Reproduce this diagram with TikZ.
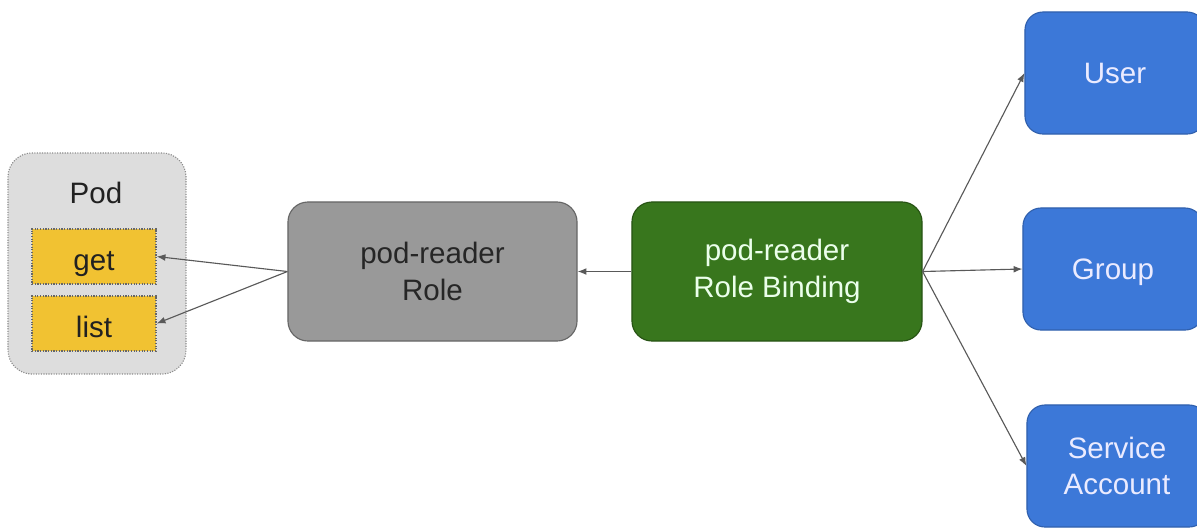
\documentclass[tikz,border=0pt]{standalone}
\usepackage{fontspec}
\setmainfont{Liberation Sans}
\usetikzlibrary{arrows.meta}
\definecolor{podgray}{HTML}{DDDDDD}
\definecolor{verbyellow}{HTML}{F1C232}
\definecolor{rolegray}{HTML}{999999}
\definecolor{bindgreen}{HTML}{38761D}
\definecolor{subjblue}{HTML}{3C78D8}
\definecolor{linkgray}{HTML}{595959}

\begin{document}
\begin{tikzpicture}[x=0.025cm,y=-0.025cm,font=\fontsize{21}{26}\selectfont,
  >={Latex[length=2.2mm,width=1.7mm]},
  box/.style={rounded corners=0.5cm,align=center,inner sep=4pt,line width=0.8pt},
  verb/.style={draw=black!60,densely dotted,line width=0.9pt,fill=verbyellow,text=black!87,
    minimum width=3.1cm,minimum height=1.375cm,text height=0.75cm,text depth=0.06cm},
  subj/.style={box,draw=subjblue!80!black,fill=subjblue,text=white!92!blue,
    minimum width=4.5cm,minimum height=3.05cm,rounded corners=0.45cm},
  link/.style={->,draw=linkgray,line width=0.8pt}]
  \useasboundingbox (0,0) rectangle (1197,529);
  \clip (0,0) rectangle (1197,529);
  % pod with its verbs
  \node[box,draw=black!45,densely dotted,fill=podgray,rounded corners=0.6cm,
    minimum width=4.45cm,minimum height=5.525cm] (pod) at (97,263.5) {};
  \node[text=black!87] (podlbl) at (96,193) {Pod};
  \node[verb] (get) at (94,256.5) {get};
  \node[verb] (list) at (94,323.5) {list};
  % role and binding
  \node[box,draw=black!60,fill=rolegray,text=black!85,
    minimum width=7.225cm,minimum height=3.475cm] (role) at (432.5,271.5) {pod-reader\\Role};
  \node[box,draw=bindgreen!70!black,fill=bindgreen,text=green!8,
    minimum width=7.25cm,minimum height=3.475cm] (rb) at (777,271.5) {pod-reader\\Role Binding};
  % subjects
  \node[subj,text height=0.53cm,text depth=0cm] (user) at (1115,73) {User};
  \node[subj,text height=0.53cm,text depth=0cm] (group) at (1113,269) {Group};
  \node[subj] (sa) at (1117,466) {Service\\Account};
  \draw[link] (role.west)--(get.east); \draw[link] (role.west)--(list.east);
  \draw[link] (rb.west)--(role.east);
  \draw[link] (rb.east)--(user.west); \draw[link] (rb.east)--(group.west);
  \draw[link] (rb.east)--(sa.west);
\end{tikzpicture}
\end{document}
